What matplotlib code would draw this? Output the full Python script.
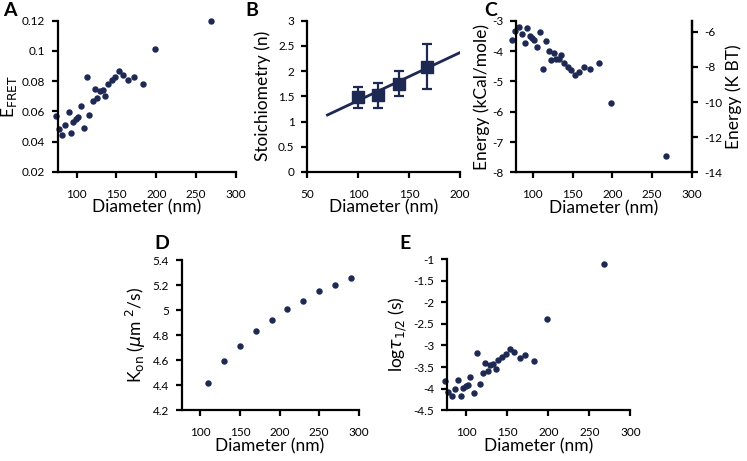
import matplotlib
matplotlib.use('Agg')
import matplotlib.pyplot as plt
from matplotlib.ticker import FuncFormatter

# Data
# diameters (nm) shared by panels A, C and E
diam = [74, 78, 82, 86, 90, 93, 96, 99, 102, 105, 109, 113, 116, 120, 123,
        126, 129, 133, 136, 139, 144, 148, 153, 158, 165, 172, 183, 198, 268]
efret = [0.0568, 0.0484, 0.0447, 0.0513, 0.0596, 0.0458, 0.0528, 0.0550, 0.0563, 0.0634,
         0.0493, 0.0826, 0.0577, 0.0667, 0.0751, 0.0687, 0.0733, 0.0744, 0.0704, 0.0779,
         0.0808, 0.0828, 0.0865, 0.0843, 0.0808, 0.0828, 0.0779, 0.1015, 0.1200]
energy = [-3.65, -3.33, -3.19, -3.44, -3.73, -3.23, -3.49, -3.58, -3.63, -3.87,
          -3.36, -4.60, -3.67, -3.99, -4.31, -4.05, -4.25, -4.27, -4.12, -4.40,
          -4.52, -4.63, -4.78, -4.68, -4.52, -4.60, -4.40, -5.71, -7.45]
log_tau = [-3.82, -4.08, -4.18, -4.01, -3.80, -4.18, -3.98, -3.94, -3.91, -3.72,
           -4.11, -3.17, -3.88, -3.64, -3.41, -3.60, -3.46, -3.43, -3.55, -3.34,
           -3.26, -3.20, -3.07, -3.15, -3.28, -3.21, -3.37, -2.39, -1.11]
# panel B: stoichiometry with error bars and fitted line
stoich_d = [100, 120, 140, 168]
stoich_n = [1.48, 1.52, 1.74, 2.08]
stoich_lo = [0.22, 0.25, 0.24, 0.44]
stoich_hi = [0.21, 0.25, 0.26, 0.46]
fit_d = [70, 200]
fit_n = [1.13, 2.37]
# panel D: on-rate
kon_d = [110, 130, 150, 170, 190, 210, 230, 250, 270, 290]
kon = [4.42, 4.59, 4.71, 4.83, 4.92, 5.01, 5.07, 5.15, 5.20, 5.26]

navy = '#1d2952'
plt.rcParams.update({'font.family': ['Lato', 'DejaVu Sans'], 'font.size': 8,
                     'axes.unicode_minus': False, 'mathtext.fontset': 'dejavusans'})

fig = plt.figure(figsize=(7.47, 4.61), dpi=100)


def style(ax, right=False):
    ax.spines['top'].set_visible(False)
    if not right:
        ax.spines['right'].set_visible(False)
    for s in ax.spines.values():
        s.set_linewidth(1.6)
    ax.tick_params(direction='out', length=4, width=1.6, labelsize=8.5, pad=8)
    ax.tick_params(axis='y', pad=5)
    ax.set_xlabel('Diameter (nm)', fontsize=12.5, labelpad=0)
    ax.yaxis.set_major_formatter(FuncFormatter(lambda v, p: '%g' % round(v, 3)))


# *=*=* Panel A *=*=*
axA = fig.add_axes([0.077, 0.627, 0.239, 0.328])
axA.plot(diam, efret, 'o', color=navy, ms=3.6, clip_on=False)
axA.set_xlim(76, 300)
axA.set_ylim(0.02, 0.12)
axA.set_xticks([100, 150, 200, 250, 300])
axA.set_yticks([0.02, 0.04, 0.06, 0.08, 0.1, 0.12])
style(axA)
axA.set_ylabel(r'E$_{\mathrm{FRET}}$', fontsize=12.5, labelpad=2)

# *=*=* Panel B *=*=*
axB = fig.add_axes([0.411, 0.627, 0.205, 0.328])
axB.plot(fit_d, fit_n, color=navy, lw=2)
axB.errorbar(stoich_d, stoich_n, yerr=[stoich_lo, stoich_hi], fmt='s', color=navy,
             ms=8, capsize=3.5, elinewidth=1.6, capthick=1.6)
axB.set_xlim(50, 200)
axB.set_ylim(0, 3)
axB.set_xticks([50, 100, 150, 200])
axB.set_yticks([0, 0.5, 1, 1.5, 2, 2.5, 3])
style(axB)
axB.set_ylabel('Stoichiometry (n)', fontsize=12.5, labelpad=5)

# *=*=* Panel C *=*=*
axC = fig.add_axes([0.691, 0.626, 0.235, 0.329])
axC.plot(diam, energy, 'o', color=navy, ms=3.6, clip_on=False)
axC.set_xlim(79, 300)
axC.set_ylim(-8, -3)
axC.set_xticks([100, 150, 200, 250, 300])
axC.set_yticks([-8, -7, -6, -5, -4, -3])
style(axC, right=True)
axC.set_ylabel('Energy (kCal/mole)', fontsize=12.5, labelpad=2)
axC2 = axC.twinx()
axC2.set_ylim(-14, -5.37)
axC2.set_yticks([-14, -12, -10, -8, -6])
axC2.spines['top'].set_visible(False)
axC2.spines['left'].set_visible(False)
axC2.spines['right'].set_linewidth(1.6)
axC2.tick_params(direction='out', length=4, width=1.6, labelsize=8.5, pad=5)
axC2.set_ylabel('Energy (K BT)', fontsize=12.5, labelpad=2)

# *=*=* Panel D *=*=*
axD = fig.add_axes([0.243, 0.110, 0.237, 0.326])
axD.plot(kon_d, kon, 'o', color=navy, ms=3.6, clip_on=False)
axD.set_xlim(76, 300)
axD.set_ylim(4.2, 5.4)
axD.set_xticks([100, 150, 200, 250, 300])
axD.set_yticks([4.2, 4.4, 4.6, 4.8, 5, 5.2, 5.4])
style(axD)
axD.set_ylabel(r'K$_{\mathrm{on}}$ ($\mu$m $^2$/s)', fontsize=12.5, labelpad=3)

# *=*=* Panel E *=*=*
axE = fig.add_axes([0.598, 0.110, 0.246, 0.328])
axE.plot(diam, log_tau, 'o', color=navy, ms=3.6, clip_on=False)
axE.set_xlim(76, 300)
axE.set_ylim(-4.5, -1)
axE.set_xticks([100, 150, 200, 250, 300])
axE.set_yticks([-4.5, -4, -3.5, -3, -2.5, -2, -1.5, -1])
style(axE)
axE.set_ylabel(r'log$\tau_{1/2}$ (s)', fontsize=12.5, labelpad=3)

# panel letters
for lbl, x, y in [('A', 0.004, 0.978), ('B', 0.328, 0.978), ('C', 0.648, 0.978),
                  ('D', 0.207, 0.471), ('E', 0.535, 0.471)]:
    fig.text(x, y, lbl, fontsize=14, fontweight='bold', va='center')

fig.savefig('out.png', dpi=100)
